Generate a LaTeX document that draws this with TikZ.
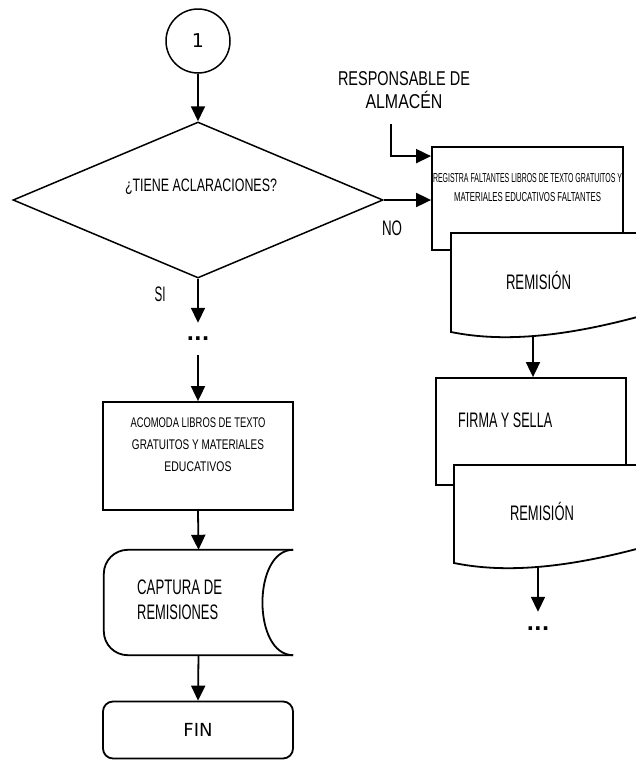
\documentclass[tikz,border=0pt]{standalone}
\usepackage{fontspec}
\usepackage{graphicx}
\usetikzlibrary{arrows.meta,shapes.geometric,calc}
\newfontfamily\lib{Liberation Sans}
\newfontfamily\dvs{DejaVu Sans}
\newcommand{\sq}[2]{\resizebox{#1}{\height}{#2}}
\begin{document}
\begin{tikzpicture}[x=1pt,y=-1pt,
  box/.style={draw,line width=1.8pt,fill=white,inner sep=0},
  txt/.style={inner sep=0},
  arr/.style={line width=1.8pt,-{Triangle[length=15pt,width=14pt]}},
  ln/.style={line width=1.8pt},
  bigf/.style={font=\lib\fontsize{21}{25}\selectfont},
  dotf/.style={inner sep=0,font=\dvs\bfseries\fontsize{20}{20}\selectfont}]
\useasboundingbox (0,0) rectangle (636,769);
\clip (0,0) rectangle (636,769);

% left column
\node[circle,draw,line width=1.5pt,minimum size=64pt,inner sep=0,font=\dvs\fontsize{19}{22}\selectfont] (c1) at (198,41) {1};
\node[diamond,draw,line width=1.5pt,minimum width=370pt,minimum height=156pt,inner sep=0] (d) at (198,200) {};
\node[txt,font=\lib\fontsize{18}{22}\selectfont] (dt) at (201,187) {\sq{152pt}{¿TIENE ACLARACIONES?}};
\node[txt,bigf] (si) at (160,294) {\sq{11pt}{SI}};
\node[dotf,minimum height=32pt] (dots1) at (198,339) {...};
\node[box,minimum width=190pt,minimum height=108pt] (b1) at (198,456) {};
\node[txt,align=center,font=\lib\fontsize{14}{22}\selectfont] (b1t) at (198,445)
  {\sq{135pt}{ACOMODA LIBROS DE TEXTO}\\\sq{132pt}{GRATUITOS Y MATERIALES}\\\sq{67pt}{EDUCATIVOS}};
\node[minimum width=189pt,minimum height=105pt,inner sep=0] (cap) at (198.5,602.5) {};
\draw[ln,rounded corners=24pt] (cap.north east) -- (cap.north west) -- (cap.south west) -- (cap.south east);
\draw[ln] (cap.north east) .. controls +(-41,0) and +(-41,0) .. (cap.south east);
\node[txt,align=left,anchor=west,bigf] (capt) at (137,600) {\sq{85pt}{CAPTURA DE}\\\sq{81pt}{REMISIONES}};
\node[box,rounded corners=10pt,minimum width=190pt,minimum height=57pt,font=\dvs\fontsize{18}{22}\selectfont] (fin) at (198,730) {FIN};

\draw[arr] (c1) -- (d.north);
\draw[arr] (d.south) -- (dots1.north);
\draw[arr] (dots1.south) -- (b1.north);
\draw[arr] (b1.south) -- (cap.north);
\draw[arr] (cap.south) -- (fin.north);

% right column
\node[txt,align=center,font=\lib\fontsize{20}{23}\selectfont] (resp) at (404,90) {\sq{132pt}{RESPONSABLE DE}\\\sq{77pt}{ALMACÉN}};
\coordinate (rs) at (391,124);
\node[box,minimum width=191pt,minimum height=103pt] (reg) at (527.5,198.5) {};
\node[txt,align=center,font=\lib\fontsize{13}{19}\selectfont] (regt) at (527.5,187.5)
  {\sq{189pt}{REGISTRA FALTANTES LIBROS DE TEXTO GRATUITOS Y}\\\sq{147pt}{MATERIALES EDUCATIVOS FALTANTES}};
\draw[arr] (rs) |- ($(reg.north west)+(0,10)$);
\draw[arr] (d.east) -- (d.east -| reg.west);
\node[txt,bigf] (no) at (392,228) {\sq{20pt}{NO}};

\draw[ln,fill=white] (451,233) -- (641,233) -- (641,316) .. controls (560,338) and (500,342) .. (451,332) -- cycle;
\node[txt,bigf] (doc1) at (538.5,280) {\sq{65pt}{REMISIÓN}};
\coordinate (d1b) at (533,336);

\node[box,minimum width=190pt,minimum height=107pt] (firm) at (531,431.5) {};
\node[txt,anchor=west,bigf] (firmt) at (458,420) {\sq{94pt}{FIRMA Y SELLA}};
\draw[arr] (d1b) -- (d1b |- firm.north);

\draw[ln,fill=white] (454,465) -- (644,465) -- (644,547) .. controls (563,569) and (503,573) .. (454,563) -- cycle;
\node[txt,bigf] (doc2) at (542,511) {\sq{64pt}{REMISIÓN}};
\coordinate (d2b) at (538,568);
\node[dotf,minimum height=34pt] (dots2) at (538,629) {...};
\draw[arr] (d2b) -- (dots2.north);
\end{tikzpicture}
\end{document}
